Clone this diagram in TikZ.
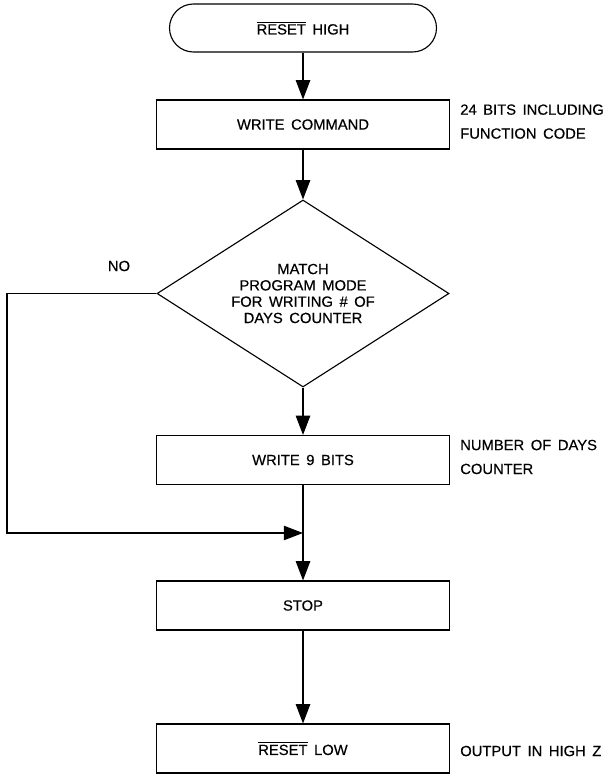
\documentclass[tikz,border=0pt]{standalone}
\usepackage{fontspec}
\setmainfont{Liberation Sans}[WordSpace=1.6, FakeBold=0.4]
\usepackage{tikz}
\usetikzlibrary{arrows.meta, shapes.geometric}
\newcommand{\resetbar}{$\overline{\mbox{RESET}}$}

\begin{document}
\begin{tikzpicture}[>={Triangle[length=0.48cm, width=0.36cm]},
  every node/.style={font=\fontsize{10.5}{11.6}\selectfont},
  terminal/.style={rectangle, rounded corners=0.6cm, draw, line width=0.8pt, minimum width=6.675cm, minimum height=1.2cm, inner sep=0pt},
  process/.style={rectangle, draw, line width=0.8pt, minimum width=7.325cm, minimum height=1.225cm, inner sep=0pt},
  decision/.style={diamond, draw, line width=0.8pt, aspect=1.56, minimum width=7.3cm, minimum height=4.675cm, inner sep=0pt, align=center},
  note/.style={anchor=west, align=left, inner sep=0pt, font=\fontsize{10.5}{17}\selectfont},
  flow/.style={->, line width=0.8pt}]

\useasboundingbox (0,0) rectangle (15.35,-19.375);

% main column
\node[terminal] (start) at (7.575,-0.70) {\resetbar{} HIGH};
\node[process] (wcmd) at (7.575,-3.1125) {WRITE COMMAND};
\node[decision] (match) at (7.575,-7.3375) {MATCH\\PROGRAM MODE\\FOR WRITING \# OF\\DAYS COUNTER};
\node[process] (wbits) at (7.575,-11.5) {WRITE 9 BITS};
\coordinate (join) at (7.575,-13.325);
\node[process] (stop) at (7.575,-15.1375) {STOP};
\node[process] (rlow) at (7.575,-18.7125) {\resetbar{} LOW};

% side notes
\node[note] (wcnote) at (11.5,-3.04) {24 BITS INCLUDING\\FUNCTION CODE};
\node[note] (wbnote) at (11.5,-11.425) {NUMBER OF DAYS\\COUNTER};
\node[note] (rlnote) at (11.5,-18.775) {OUTPUT IN HIGH Z};
\node[note, anchor=center] (nolabel) at (2.975,-6.65) {NO};

% connectors
\draw[flow] (start) -- (wcmd);
\draw[flow] (wcmd) -- (match);
\draw[flow] (match) -- (wbits);
\draw[flow] (wbits) -- (stop);
\draw[flow] (stop) -- (rlow);
\coordinate (noleft) at (0.175,-13.325);
\draw[flow] (match.west) -| (noleft) -- (join);

\end{tikzpicture}
\end{document}
